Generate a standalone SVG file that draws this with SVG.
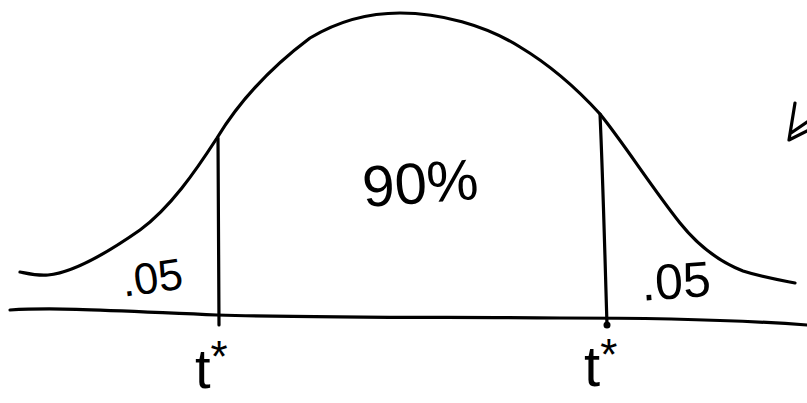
<svg xmlns="http://www.w3.org/2000/svg" width="807" height="403" viewBox="0 0 807 403">
<style>
.ink{fill:none;stroke:#000;stroke-width:3.2;stroke-linecap:round;stroke-linejoin:round}
.hand{font-family:"Liberation Sans","DejaVu Sans",sans-serif;fill:#000}
</style>
<rect width="807" height="403" fill="#fff"/>
<g id="axis">
<path class="ink" d="M10,310 C60,307 120,311 217,315 C330,318 450,317 560,318 C650,318 740,320 807,325"/>
</g>
<g id="curve">
<path class="ink" d="M20,272 C30,274 38,276 48,275 C70,273 100,258 140,230 C170,208 195,172 217,138 C240,100 270,68 310,38 C340,20 370,13 400,13 C440,13 485,25 520,47 C555,68 580,92 600,114 C625,145 650,185 680,223 C700,248 720,262 743,271 C765,278 785,281 795,283"/>
</g>
<g id="cutoffs">
<path class="ink" d="M218,138 L219,325"/>
<path class="ink" d="M600,114 C603,180 605,260 607,325"/>
<circle cx="607" cy="325" r="3.5" fill="#000"/>
</g>
<g id="labels">
<text class="hand" x="362" y="203" font-size="58" transform="rotate(-4 420 180)">90%</text>
<text class="hand" x="121" y="293" font-size="44" transform="rotate(-8 150 275)">.05</text>
<text class="hand" x="641" y="298" font-size="50" transform="rotate(-4 680 280)">.05</text>
<text class="hand" x="195" y="388" font-size="56">t<tspan font-size="44" dy="-16">*</tspan></text>
<text class="hand" x="584" y="386" font-size="58">t<tspan font-size="44" dy="-16">*</tspan></text>
</g>
<g id="arrow">
<path class="ink" d="M795,103 Q792,122 789,140 L807,131 M791,133 L807,122"/>
</g>
</svg>
